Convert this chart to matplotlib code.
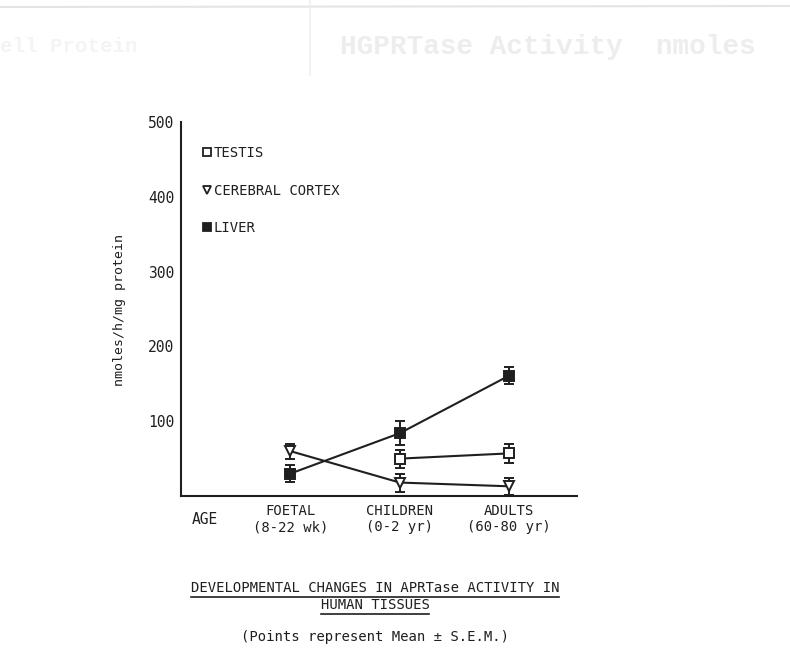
import matplotlib
matplotlib.use("Agg")
import matplotlib.pyplot as plt
from matplotlib.lines import Line2D

# values (nmoles/h/mg protein)
ages = ["FOETAL\n(8-22 wk)", "CHILDREN\n(0-2 yr)", "ADULTS\n(60-80 yr)"]
age_pos = [0, 1, 2]

liver_pos = [0, 1, 2]
liver = [30, 84, 161]
liver_sem = [11, 16, 11]

testis_pos = [1, 2]
testis = [50, 57]
testis_sem = [12, 13]

cortex_pos = [0, 1, 2]
cortex = [60, 18, 13]
cortex_sem = [10, 12, 11]

y_ticks = [100, 200, 300, 400, 500]

ink = "#1f1f1f"
mono = "DejaVu Sans Mono"
plt.rcParams["font.family"] = mono

fig = plt.figure(figsize=(7.9, 6.65), dpi=100)
ax = fig.add_axes([0.2291, 0.2541, 0.5013, 0.5624])

common = dict(color=ink, lw=1.5, elinewidth=1.4, capsize=3.5, capthick=1.4, markersize=6.5, mew=1.4)
ax.errorbar(liver_pos, liver, yerr=liver_sem, marker="s", mfc=ink, **common)
ax.errorbar(testis_pos, testis, yerr=testis_sem, marker="s", mfc="white", **common)
ax.errorbar(cortex_pos, cortex, yerr=cortex_sem, marker="v", mfc="white", **common)

ax.set_xlim(-1.0, 2.62)
ax.set_ylim(0, 500)
ax.set_yticks(y_ticks)
ax.set_yticklabels([str(t) for t in y_ticks], fontsize=10.5, color=ink)
ax.set_xticks(age_pos)
ax.set_xticklabels(ages, fontsize=10, color=ink, linespacing=1.15)
ax.tick_params(axis="both", length=0)
ax.tick_params(axis="y", pad=5)
ax.tick_params(axis="x", pad=6)
for side in ["top", "right"]:
    ax.spines[side].set_visible(False)
for side in ["left", "bottom"]:
    ax.spines[side].set_color(ink)
    ax.spines[side].set_linewidth(1.5)

handles = [
    Line2D([], [], ls="none", marker="s", ms=5.5, mfc="white", mec=ink, mew=1.3),
    Line2D([], [], ls="none", marker="v", ms=5.5, mfc="white", mec=ink, mew=1.3),
    Line2D([], [], ls="none", marker="s", ms=5.5, mfc=ink, mec=ink, mew=1.3),
]
leg = ax.legend(handles, ["TESTIS", "CEREBRAL CORTEX", "LIVER"], loc="upper left",
                bbox_to_anchor=(0.055, 0.935), frameon=False, fontsize=10,
                handlelength=0.6, handletextpad=0.2, labelspacing=1.68,
                borderaxespad=0, borderpad=0)
for t in leg.get_texts():
    t.set_color(ink)

fig.text(120 / 790, 1 - 310 / 665, "nmoles/h/mg protein", rotation=90,
         ha="center", va="center", fontsize=9.5, color=ink)
fig.text(205 / 790, 1 - 519 / 665, "AGE", ha="center", va="center", fontsize=10.5, color=ink)

t1 = fig.text(0.4747, 1 - 588 / 665, "DEVELOPMENTAL CHANGES IN APRTase ACTIVITY IN",
              ha="center", va="center", fontsize=10, color=ink)
t2 = fig.text(0.4747, 1 - 605 / 665, "HUMAN TISSUES",
              ha="center", va="center", fontsize=10, color=ink)
fig.text(0.4747, 1 - 637 / 665, "(Points represent Mean \u00b1 S.E.M.)",
         ha="center", va="center", fontsize=10, color=ink)

# underline the caption lines
fig.canvas.draw()
r = fig.canvas.get_renderer()
for t in (t1, t2):
    bb = t.get_window_extent(r).transformed(fig.transFigure.inverted())
    fig.add_artist(Line2D([bb.x0, bb.x1], [bb.y0 - 0.003, bb.y0 - 0.003],
                          transform=fig.transFigure, color=ink, lw=1.2))

# faint bleed-through from the facing page of the scan
fig.text(340 / 790, 1 - 47 / 665, "HGPRTase Activity  nmoles", fontsize=20,
         family="Liberation Mono", weight="bold", color="#ededed", va="center")
fig.text(0 / 790, 1 - 47 / 665, "ell Protein", fontsize=15,
         family="Liberation Mono", weight="bold", color="#f4f4f4", va="center")
fig.add_artist(Line2D([0, 1], [1 - 7 / 665, 1 - 6 / 665], transform=fig.transFigure,
                      color="#e4e4e4", lw=1.5))
fig.add_artist(Line2D([310 / 790, 310 / 790], [1, 1 - 75 / 665], transform=fig.transFigure,
                      color="#efefef", lw=1.2))

fig.savefig("out.png", dpi=100, facecolor="white")
